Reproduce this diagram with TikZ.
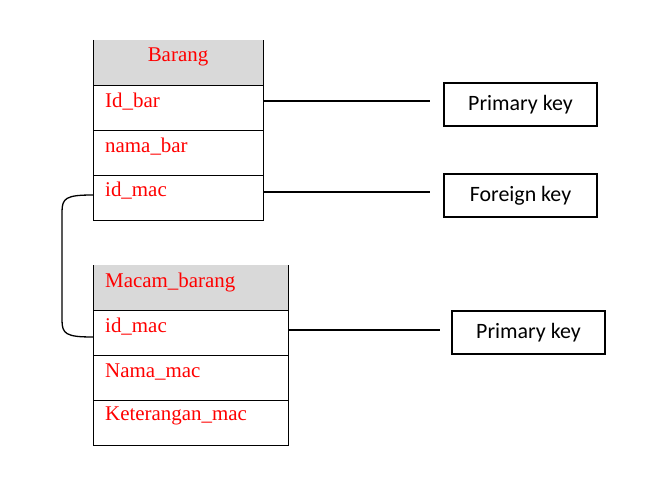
\documentclass[tikz,border=0pt]{standalone}
\usepackage{fontspec}
\setmainfont{Liberation Serif}
\newfontfamily\calib{Carlito}
\newcommand{\rtx}[1]{{\fontsize{21}{24}\selectfont #1}}
\begin{document}
\begin{tikzpicture}[x=1bp,y=-1bp,
  cell/.style={draw=black,line width=0.7bp},
  redtxt/.style={text=red,inner sep=0,anchor=west},
  keybox/.style={draw=black,line width=1.6bp,minimum width=153bp,minimum height=43bp,font=\calib\fontsize{22}{24}\selectfont,inner sep=0},
  conn/.style={draw=black,line width=1.3bp}]
\useasboundingbox (0,0) rectangle (659,485);
% table Barang
\fill[gray!30] (93,40) rectangle (263,85);
\draw[cell] (93,40) -- (93,220) -- (263,220) -- (263,40);
\foreach \y in {85,130,175} \draw[cell] (93,\y) -- (263,\y);
\node[text=red,inner sep=0] (bh) at (178,57) {\rtx{Barang}};
\node[redtxt] (b1) at (105,102) {\rtx{Id\_bar}};
\node[redtxt] (b2) at (105,147) {\rtx{nama\_bar}};
\node[redtxt] (b3) at (105,191) {\rtx{id\_mac}};
\coordinate (b1r) at (263,101);
\coordinate (b3r) at (263,192);
\coordinate (b3l) at (93,195);
% table Macam_barang
\fill[gray!30] (93,265) rectangle (288,310);
\draw[cell] (93,265) -- (93,445) -- (288,445) -- (288,265);
\foreach \y in {310,355,400} \draw[cell] (93,\y) -- (288,\y);
\node[redtxt] (mh) at (105,282) {\rtx{Macam\_barang}};
\node[redtxt] (m1) at (105,327) {\rtx{id\_mac}};
\node[redtxt] (m2) at (105,372) {\rtx{Nama\_mac}};
\node[redtxt] (m3) at (105,416) {\rtx{Keterangan\_mac}};
\coordinate (m1r) at (288,330);
\coordinate (m1l) at (93,337);
% key boxes
\node[keybox] (k1) at (520.5,104.5) {Primary key};
\node[keybox] (k2) at (520.5,195.5) {Foreign key};
\node[keybox] (k3) at (528.5,332.5) {Primary key};
\coordinate (k1e) at (430,101);
\coordinate (k2e) at (430,192);
\coordinate (k3e) at (440,330);
\draw[conn] (b1r) -- (k1e);
\draw[conn] (b3r) -- (k2e);
\draw[conn] (m1r) -- (k3e);
\draw[conn] (b3l) .. controls (66,195) and (62,198) .. (62,212) -- (62,320) .. controls (62,334) and (66,337) .. (m1l);
\end{tikzpicture}
\end{document}
